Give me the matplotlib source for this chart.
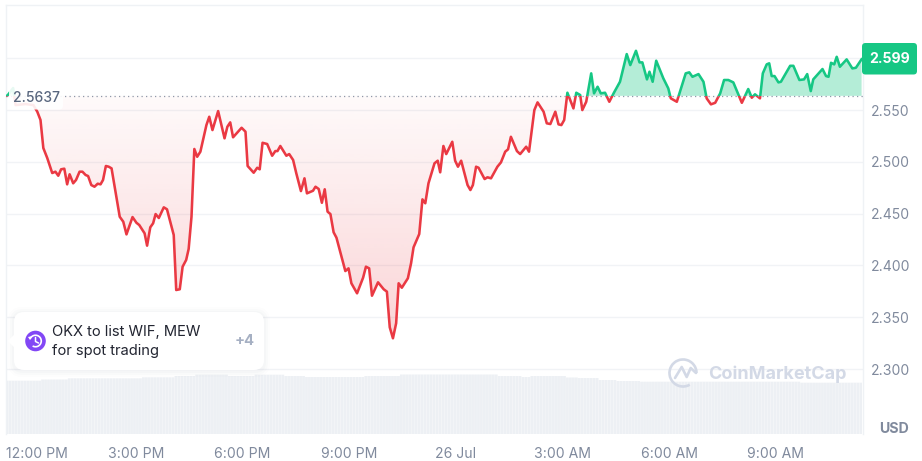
import numpy as np
import matplotlib
matplotlib.use("Agg")
import matplotlib.pyplot as plt
from matplotlib.patches import FancyBboxPatch, Circle, Polygon, Arc, Rectangle
from matplotlib.path import Path
from matplotlib.transforms import ScaledTranslation

plt.rcParams['font.family'] = ['Inter', 'DejaVu Sans']

# hours after 12:00 PM
time_hours = [-0.68,-0.62,-0.46,-0.39,-0.11,0.11,0.22,0.31,0.39,0.50,0.64,0.73,0.81,0.89,0.98,1.06,1.13,1.23,1.31,1.41,1.49,1.58,1.65,1.74,1.83,1.92,2.00,2.07,2.15,2.23,2.31,2.54,2.64,2.73,2.90,3.01,3.09,3.20,3.24,3.31,3.40,3.48,3.55,3.64,3.78,3.87,4.06,4.13,4.23,4.31,4.41,4.48,4.56,4.64,4.72,4.81,4.98,5.06,5.15,5.31,5.49,5.57,5.65,5.73,5.97,6.08,6.14,6.31,6.41,6.48,6.56,6.69,6.83,6.92,6.98,7.06,7.23,7.31,7.42,7.51,7.64,7.74,7.81,7.98,8.05,8.14,8.23,8.31,8.39,8.47,8.56,8.64,8.89,8.98,9.06,9.22,9.31,9.39,9.47,9.56,9.64,9.81,9.97,10.06,10.14,10.23,10.32,10.39,10.48,10.65,10.74,10.81,10.97,11.06,11.14,11.23,11.40,11.49,11.56,11.65,11.73,11.90,11.98,12.06,12.15,12.33,12.41,12.48,12.57,12.64,12.81,12.89,12.99,13.17,13.27,13.39,13.47,13.55,13.72,13.81,13.98,14.06,14.21,14.30,14.47,14.56,14.66,14.80,14.89,14.97,15.05,15.14,15.31,15.39,15.50,15.56,15.67,15.81,15.89,15.99,16.08,16.20,16.32,16.44,16.62,16.81,16.91,17.07,17.17,17.25,17.38,17.45,17.54,17.64,17.84,17.98,18.05,18.22,18.47,18.57,18.66,18.83,18.97,19.06,19.18,19.30,19.44,19.55,19.67,19.81,20.05,20.23,20.33,20.42,20.56,20.64,20.75,20.82,20.89,20.97,21.08,21.15,21.41,21.50,21.67,21.80,21.89,21.99,22.06,22.32,22.42,22.49,22.56,22.65,22.72,22.81,23.00,23.16,23.26,23.42]
prices = [2.5635,2.5640,2.5712,2.5548,2.5558,2.5548,2.5484,2.5404,2.5133,2.5037,2.4892,2.4905,2.4866,2.4928,2.4934,2.4783,2.4880,2.4793,2.4825,2.4905,2.4905,2.4873,2.4863,2.4776,2.4760,2.4789,2.4783,2.4825,2.4960,2.4953,2.4937,2.4470,2.4422,2.4300,2.4467,2.4412,2.4390,2.4332,2.4310,2.4191,2.4368,2.4407,2.4496,2.4458,2.4561,2.4542,2.4294,2.3763,2.3770,2.3988,2.4053,2.4159,2.4470,2.5124,2.5049,2.5098,2.5355,2.5435,2.5307,2.5490,2.5227,2.5339,2.5381,2.5237,2.5329,2.5291,2.4960,2.4895,2.4943,2.4928,2.5184,2.5172,2.5059,2.5104,2.5104,2.5153,2.5059,2.5075,2.5018,2.4889,2.4718,2.4841,2.4696,2.4721,2.4760,2.4738,2.4605,2.4735,2.4519,2.4496,2.4320,2.4268,2.3946,2.3972,2.3828,2.3731,2.3811,2.3882,2.3988,2.3972,2.3708,2.3837,2.3770,2.3747,2.3403,2.3297,2.3442,2.3828,2.3785,2.3876,2.4021,2.4175,2.4303,2.4638,2.4600,2.4793,2.4986,2.5011,2.4899,2.5153,2.5075,2.5194,2.5011,2.4953,2.5011,2.4776,2.4728,2.4776,2.4953,2.4943,2.4834,2.4851,2.4841,2.4953,2.4995,2.5098,2.5121,2.5242,2.5104,2.5075,2.5146,2.5098,2.5500,2.5574,2.5484,2.5372,2.5365,2.5484,2.5362,2.5355,2.5404,2.5667,2.5516,2.5667,2.5645,2.5500,2.5580,2.5854,2.5661,2.5725,2.5661,2.5667,2.5580,2.5661,2.5773,2.6040,2.5934,2.6072,2.5960,2.5960,2.5796,2.5870,2.5773,2.5976,2.5806,2.5709,2.5613,2.5580,2.5854,2.5864,2.5821,2.5847,2.5773,2.5613,2.5555,2.5570,2.5661,2.5790,2.5790,2.5767,2.5570,2.5703,2.5619,2.5652,2.5613,2.5854,2.5941,2.5951,2.5828,2.5828,2.5767,2.5773,2.5927,2.5927,2.5790,2.5796,2.5847,2.5683,2.5796,2.5896,2.5828,2.5821,2.5956,2.5941,2.6014,2.5918,2.5989,2.5902,2.5908,2.5990]
baseline_price = 2.5637
last_price = 2.599

# volume, relative units, as runs of equal-looking 5-minute bars
volume_levels = [53.3,54.5,55.7,56.7,58,59.3,58,59.3,58,57,58,59.5,58,57,58,56.5,56,54,53,52.3,51.3]
volume_runs = [12,9,25,11,7,11,9,10,7,20,12,33,8,3,12,4,7,6,8,54,21]

price_ticks = [2.30,2.35,2.40,2.45,2.50,2.55,2.60]
price_tick_labels = ['2.300','2.350','2.400','2.450','2.500','2.550','']
time_ticks = [0,3,6,9,12,15,18,21]
time_tick_labels = ['12:00 PM','3:00 PM','6:00 PM','9:00 PM','26 Jul','3:00 AM','6:00 AM','9:00 AM']

RED = '#ea3943'
GREEN = '#16c784'
GRID = '#f1f3f6'
TICK = '#808a9d'

x = np.array(time_hours)
y = np.array(prices)

W, H = 922, 461
fig = plt.figure(figsize=(W/100, H/100), dpi=100, facecolor='white')
L, R, T, B = 5.5, 862.5, 5.0, 434.0
ax = fig.add_axes([L/W, 1-B/H, (R-L)/W, (B-T)/H])
ax.set_xlim(-0.675, 23.446)
ax.set_ylim(2.2373, 2.6514)

# volume bars on their own scale
vol = ax.twinx()
vol.set_ylim(0, B-T)
vol.set_xlim(ax.get_xlim())
vol_vals = np.repeat(volume_levels, volume_runs)
vol_x = ax.get_xlim()[0] + (np.arange(len(vol_vals)) + 0.5) * (ax.get_xlim()[1]-ax.get_xlim()[0]) / len(vol_vals)
bars = vol.bar(vol_x, vol_vals, width=0.078, color='#edf0f4', linewidth=0, zorder=1)
for b in bars:
    b.set_snap(False)
vol.set_yticks([])
for s in vol.spines.values():
    s.set_visible(False)
ax.set_zorder(vol.get_zorder()+1)
ax.patch.set_visible(False)

ax.spines['bottom'].set_visible(False)
for s in ['left', 'top', 'right']:
    ax.spines[s].set_color('#eff2f5')
    ax.spines[s].set_linewidth(1)

ax.yaxis.tick_right()
ax.set_yticks(price_ticks)
ax.set_yticklabels(price_tick_labels)
ax.set_xticks(time_ticks)
ax.set_xticklabels(time_tick_labels)
ax.tick_params(axis='both', length=0, labelcolor=TICK, labelsize=10.1)
ax.tick_params(axis='x', pad=9.5)
ax.tick_params(axis='y', pad=6)
ax.grid(True, axis='y', color=GRID, linewidth=1, zorder=0)
ax.xaxis.get_major_ticks()[0].label1.set_transform(
    ax.xaxis.get_major_ticks()[0].label1.get_transform()
    + ScaledTranslation(7.5/100, 0, fig.dpi_scale_trans))

# red gradient fill below the open price
lo = y.min()
red_poly = ax.fill_between(x, y, baseline_price, where=y <= baseline_price,
                           interpolate=True, color='none', linewidth=0)
clip = Path.make_compound_path(*red_poly.get_paths())
grad = np.zeros((256, 1, 4))
grad[..., :3] = matplotlib.colors.to_rgb(RED)
grad[..., 3] = np.linspace(0.025, 0.215, 256)[:, None]
im = ax.imshow(grad, extent=[x[0], x[-1], lo, baseline_price], origin='upper',
               aspect='auto', zorder=2, interpolation='bilinear')
im.set_clip_path(clip, ax.transData)
ax.set_xlim(-0.675, 23.446)
ax.set_ylim(2.2373, 2.6514)

# green fill above
ax.fill_between(x, y, baseline_price, where=y >= baseline_price, interpolate=True,
                color=GREEN, alpha=0.32, linewidth=0, zorder=2)

# line, two colours split at the open price
x0, x1 = ax.get_xlim()
y0, y1 = ax.get_ylim()
red_line, = ax.plot(x, y, color=RED, lw=1.85, zorder=3, solid_joinstyle='round')
green_line, = ax.plot(x, y, color=GREEN, lw=1.85, zorder=3, solid_joinstyle='round')
red_line.set_clip_path(Rectangle((x0, y0), x1-x0, baseline_price-y0, transform=ax.transData))
green_line.set_clip_path(Rectangle((x0, baseline_price), x1-x0, y1-baseline_price, transform=ax.transData))

ax.axhline(baseline_price, color='#8f98a8', lw=0.9, dashes=(1, 2.6), zorder=4)

# overlay in pixel coordinates for labels and decorations
ov = fig.add_axes([0, 0, 1, 1], zorder=10)
ov.set_xlim(0, W)
ov.set_ylim(H, 0)
ov.axis('off')

# open-price label
ov.add_patch(FancyBboxPatch((12, 89), 48, 17.5, boxstyle='round,pad=3,rounding_size=4',
                            fc='white', ec='none', alpha=0.9))
ov.text(36.3, 98, '2.5637', color='#58667e', fontsize=10.0, ha='center', va='center', fontweight='medium')

# last-price tag
ov.add_patch(FancyBboxPatch((864.5, 45.5), 50, 26.5, boxstyle='round,pad=2.5,rounding_size=3.5',
                            fc=GREEN, ec='none'))
ov.text(889.5, 58.7, f'{last_price:.3f}', color='white', fontsize=10.1, fontweight='bold', ha='center', va='center')
ov.text(893.5, 428.5, 'USD', color=TICK, fontsize=10.2, fontweight='bold', ha='center', va='center')

# watermark
wm = '#d3d9e6'
ov.add_patch(Arc((683, 373), 27, 27, theta1=60, theta2=360, color=wm, lw=1.9))
ov.plot([675, 681.7, 686.7, 690.7, 696], [378, 367, 377, 368, 373], color=wm, lw=1.9,
        solid_joinstyle='round', solid_capstyle='round')
ov.text(708, 374, 'CoinMarketCap', color=wm, fontsize=13.0, fontweight='bold', ha='left', va='center')

# tooltip
bx, by, bw, bh = 14, 312, 250, 58
for grow, a in [(6, 0.012), (4, 0.018), (2, 0.025)]:
    ov.add_patch(FancyBboxPatch((bx+9, by+9+1), bw-18, bh-18, boxstyle=f'round,pad={9+grow},rounding_size={9+grow}',
                                fc='#58667e', ec='none', alpha=a))
ov.add_patch(Polygon([(7.5, 341), (15, 334), (15, 348)], closed=True, fc='white', ec='none'))
ov.add_patch(FancyBboxPatch((bx+9, by+9), bw-18, bh-18, boxstyle='round,pad=9,rounding_size=10',
                            fc='white', ec='none'))
ov.add_patch(Circle((35.5, 341), 10.3, fc='#8247f5', ec='none'))
ov.add_patch(Arc((35.5, 341), 11.5, 11.5, theta1=-160, theta2=120, color='white', lw=1.2))
ov.plot([35.5, 35.5, 38.5], [337.5, 341.5, 343], color='white', lw=1.1, solid_capstyle='round')
ov.add_patch(Polygon([(28, 337), (32.5, 336), (30, 340)], closed=True, fc='white', ec='none'))
ov.text(52, 331.5, 'OKX to list WIF, MEW', color='#222531', fontsize=10.6, ha='left', va='center')
ov.text(52, 351, 'for spot trading', color='#222531', fontsize=10.6, ha='left', va='center')
ov.text(235, 341, '+4', color='#a6b0c3', fontsize=10.6, fontweight='bold', ha='left', va='center')

fig.savefig('out.png', dpi=100, facecolor='white')
